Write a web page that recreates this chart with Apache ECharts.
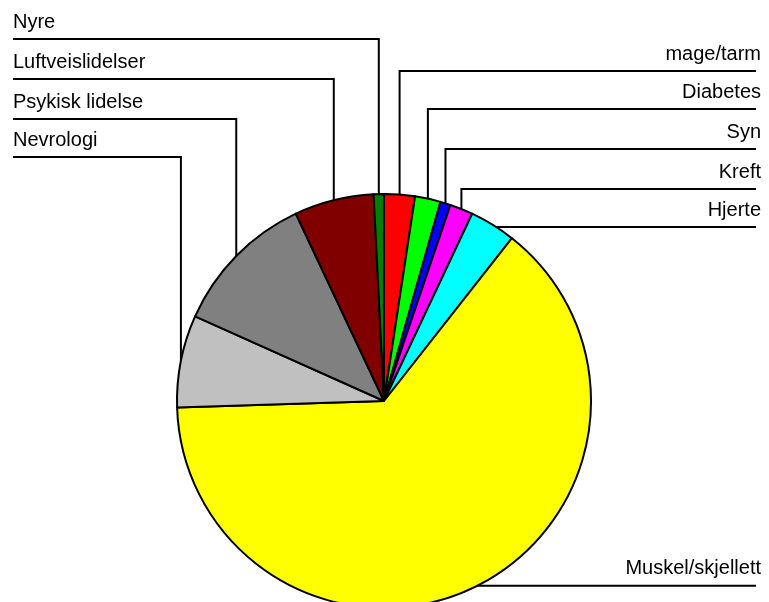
<!DOCTYPE html>
<html>
<head>
<meta charset="utf-8">
<script src="https://cdn.jsdelivr.net/npm/echarts@6/dist/echarts.min.js"></script>
<style>
  html, body { margin: 0; padding: 0; background: #ffffff; }
  #chart { width: 769px; height: 602px; }
</style>
</head>
<body>
<div id="chart"></div>
<script>
// Categories in clockwise order, starting at 12 o'clock
const categories = ['mage/tarm', 'Diabetes', 'Syn', 'Kreft', 'Hjerte', 'Muskel/skjellett',
                    'Nevrologi', 'Psykisk lidelse', 'Luftveislidelser', 'Nyre'];
// Share of cases (%)
const values = [2.4, 2.0, 0.8, 1.8, 3.6, 63.9, 7.2, 11.3, 6.2, 0.8];
const colors = ['#ff0000', '#00ff00', '#0000ff', '#ff00ff', '#00ffff', '#ffff00',
                '#c0c0c0', '#808080', '#800000', '#008000'];

// Label placement: which side the label sits on, and the height of its underline
// (null = underline runs level with the slice's edge point)
const labelSide = ['right', 'right', 'right', 'right', 'right', 'right', 'left', 'left', 'left', 'left'];
const labelLineY = [71, 109, 149, 189, 227, null, 157, 119, 79, 39];

const chart = echarts.init(document.getElementById('chart'), null, { renderer: 'canvas' });

chart.setOption({
  animation: false,
  backgroundColor: '#ffffff',
  series: [{
    type: 'pie',
    center: [384, 401],
    radius: 207,
    startAngle: 90,
    clockwise: true,
    avoidLabelOverlap: false,
    data: categories.map((name, i) => ({
      name: name,
      value: values[i],
      itemStyle: { color: colors[i] }
    })),
    itemStyle: { borderColor: '#000000', borderWidth: 2 },
    emphasis: { disabled: true },
    label: {
      show: true,
      position: 'outer',
      formatter: '{b}',
      color: '#000000',
      fontFamily: 'Liberation Sans, Arial, sans-serif',
      fontSize: 20
    },
    labelLine: {
      show: true,
      length: 10,
      length2: 10,
      smooth: false,
      lineStyle: { color: '#000000', width: 2 }
    },
    // Elbow leader lines: up (or down) from the slice edge, then across under the label
    labelLayout: function (p) {
      const i = p.dataIndex;
      const pts = p.labelLinePoints;
      if (!pts) return {};
      const a = pts[0];
      const ly = labelLineY[i] == null ? a[1] : labelLineY[i];
      const right = labelSide[i] === 'right';
      const endX = right ? 756 : 13;
      return {
        x: right ? 761 : 13,
        y: ly - 17,
        align: right ? 'right' : 'left',
        verticalAlign: 'middle',
        labelLinePoints: [[a[0], a[1]], [a[0], ly], [endX, ly]]
      };
    }
  }]
});
</script>
</body>
</html>
